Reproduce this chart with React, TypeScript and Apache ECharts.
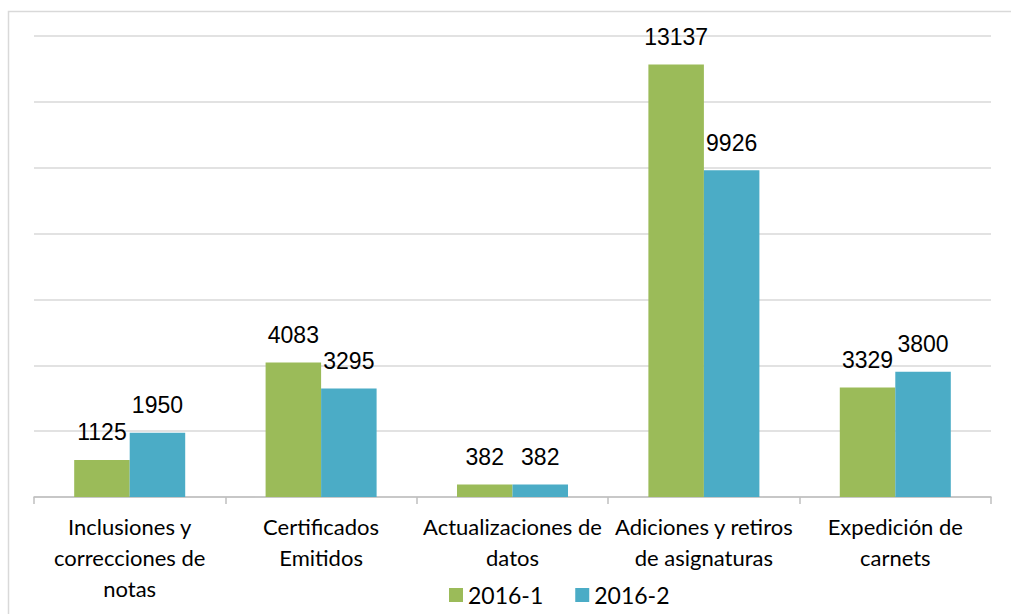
import React, { useEffect, useRef } from "react";
import * as echarts from "echarts";

const categories = [
  "Inclusiones y\ncorrecciones de\nnotas",
  "Certificados\nEmitidos",
  "Actualizaciones de\ndatos",
  "Adiciones y retiros\nde asignaturas",
  "Expedición de\ncarnets",
];
const seriesNames = ["2016-1", "2016-2"];
const values2016_1 = [1125, 4083, 382, 13137, 3329];
const values2016_2 = [1950, 3295, 382, 9926, 3800];
const colors = ["#9BBB59", "#4BACC6"];

export default function App() {
  const ref = useRef<HTMLDivElement>(null);
  useEffect(() => {
    if (!ref.current) return;
    const chart = echarts.init(ref.current, null, { renderer: "svg" });
    const label = {
      show: true,
      position: "top",
      distance: 16,
      fontFamily: "'Liberation Sans Narrow', 'Arial Narrow', 'Liberation Sans', sans-serif",
      fontSize: 23,
      lineHeight: 23,
      color: "#000",
    };
    chart.setOption({
      animation: false,
      backgroundColor: "#fff",
      graphic: [
        {
          type: "rect",
          shape: { x: 8.5, y: 11.5, width: 1010, height: 620 },
          style: { fill: "none", stroke: "#d9d9d9", lineWidth: 1.5 },
          silent: true,
        },
      ],
      grid: { left: 34, right: 20, top: 36, bottom: 117 },
      legend: {
        left: 449,
        top: 583,
        padding: 0,
        itemWidth: 14,
        itemHeight: 14,
        itemGap: 32,
        icon: "rect",
        textStyle: { fontFamily: "Lato, sans-serif", fontSize: 23, lineHeight: 24, color: "#000" },
        data: seriesNames,
      },
      xAxis: {
        type: "category",
        data: categories,
        axisLine: { lineStyle: { color: "#bfbfbf", width: 1.5 } },
        axisTick: { show: true, length: 7, lineStyle: { color: "#bfbfbf", width: 1.5 } },
        axisLabel: {
          interval: 0,
          margin: 14,
          fontFamily: "Lato, sans-serif",
          fontSize: 22,
          lineHeight: 31,
          color: "#000",
        },
      },
      yAxis: {
        type: "value",
        min: 0,
        max: 14000,
        interval: 2000,
        axisLabel: { show: false },
        axisLine: { show: false },
        axisTick: { show: false },
        splitLine: { lineStyle: { color: "#d9d9d9", width: 1.5 } },
      },
      series: [
        {
          name: seriesNames[0],
          type: "bar",
          data: values2016_1,
          itemStyle: { color: colors[0] },
          barGap: "0%",
          barCategoryGap: "42%",
          label,
        },
        {
          name: seriesNames[1],
          type: "bar",
          data: values2016_2,
          itemStyle: { color: colors[1] },
          barGap: "0%",
          barCategoryGap: "42%",
          label,
        },
      ],
    });
    return () => chart.dispose();
  }, []);
  return (
    <div
      ref={ref}
      style={{ position: "fixed", left: 0, top: 0, width: 1011, height: 614 }}
    />
  );
}
